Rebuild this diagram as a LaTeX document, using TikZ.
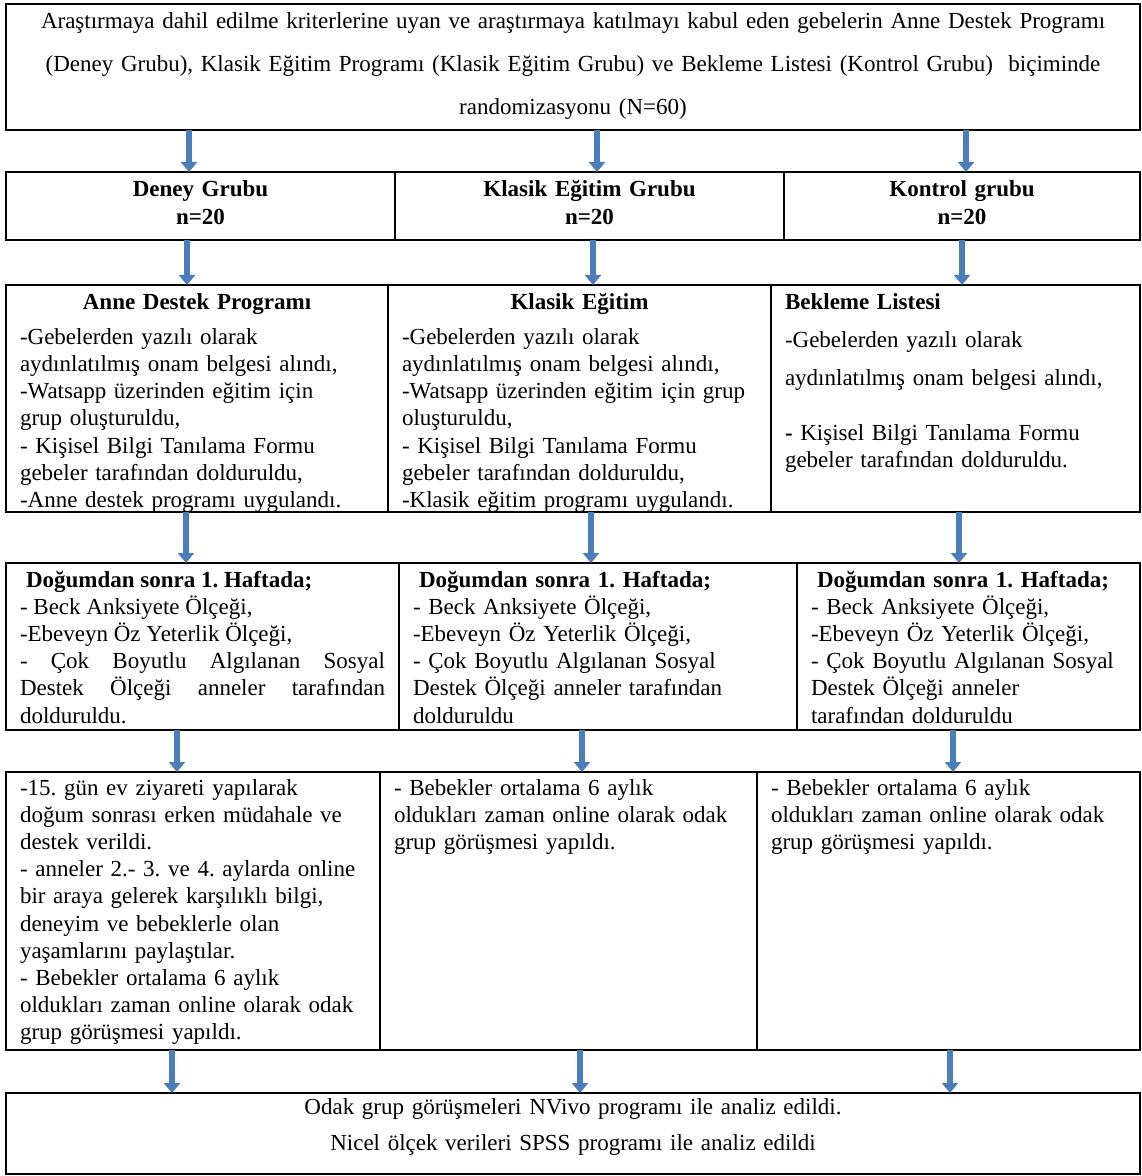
\documentclass[tikz,border=0pt]{standalone}
\usepackage{fontspec}
\setmainfont{Liberation Serif}
\usepackage{tikz}
\usetikzlibrary{arrows.meta, positioning}
\definecolor{arrowblue}{RGB}{74,126,187}
\frenchspacing

\begin{document}
\begin{tikzpicture}[
    cell/.style={draw=black, line width=1pt, inner xsep=7pt, inner ysep=0pt, outer sep=0pt, anchor=north west, align=left, font=\fontsize{11.5}{13.6}\selectfont},
    topbox/.style={cell, align=center, text width=553pt, text height=12.5pt, text depth=50.5pt},
    groupbox/.style={cell, align=center, font=\fontsize{11.5}{13.6}\selectfont\bfseries, text height=12.5pt, text depth=21.5pt},
    programbox/.style={cell, text height=12pt, text depth=101.5pt},
    weekbox/.style={cell, text height=12pt, text depth=71.5pt},
    followbox/.style={cell, text height=11.5pt, text depth=127.5pt},
    analysisbox/.style={cell, align=center, text width=553pt, text height=10.5pt, text depth=30pt},
    arrow/.style={-{Triangle[width=8pt, length=5pt]}, line width=2.8pt, draw=arrowblue}
]
    \path[use as bounding box, fill=white] (0,0) rectangle (570.5pt,-588pt);

    % Randomizasyon
    \node[topbox] (rand) at (3pt,-2pt) {
        Araştırmaya dahil edilme kriterlerine uyan ve araştırmaya katılmayı kabul eden gebelerin Anne Destek Programı\\[7.9pt]
        (Deney Grubu), Klasik Eğitim Programı (Klasik Eğitim Grubu) ve Bekleme Listesi (Kontrol Grubu)~~biçiminde\\[7.9pt]
        randomizasyonu (N=60)
    };

    % Gruplar
    \node[groupbox, text width=180.5pt, below=21pt of rand.south west, anchor=north west] (grp_deney) {Deney Grubu\\[0.4pt] n=20};
    \node[groupbox, text width=180.5pt, right=0pt of grp_deney] (grp_klasik) {Klasik Eğitim Grubu\\[0.4pt] n=20};
    \node[groupbox, text width=164pt, right=0pt of grp_klasik] (grp_kontrol) {Kontrol grubu\\[0.4pt] n=20};

    % Programlar
    \node[programbox, text width=177pt, below=22.5pt of grp_deney.south west, anchor=north west] (prog_anne) {
        \makebox[\linewidth]{\textbf{Anne Destek Programı}}\\[4pt]
        -Gebelerden yazılı olarak\\
        aydınlatılmış onam belgesi alındı,\\
        -Watsapp üzerinden eğitim için\\
        grup oluşturuldu,\\
        - Kişisel Bilgi Tanılama Formu\\
        gebeler tarafından dolduruldu,\\
        -Anne destek programı uygulandı.
    };
    \node[programbox, text width=177.5pt, right=0pt of prog_anne] (prog_klasik) {
        \makebox[\linewidth]{\textbf{Klasik Eğitim}}\\[4pt]
        -Gebelerden yazılı olarak\\
        aydınlatılmış onam belgesi alındı,\\
        -Watsapp üzerinden eğitim için grup\\
        oluşturuldu,\\
        - Kişisel Bilgi Tanılama Formu\\
        gebeler tarafından dolduruldu,\\
        -Klasik eğitim programı uygulandı.
    };
    \node[programbox, text width=170.5pt, right=0pt of prog_klasik] (prog_bekleme) {
        \textbf{Bekleme Listesi}\\[5.4pt]
        -Gebelerden yazılı olarak\\[5.4pt]
        aydınlatılmış onam belgesi alındı,\\[13.9pt]
        \textbf{-} Kişisel Bilgi Tanılama Formu\\
        gebeler tarafından dolduruldu.
    };

    % Doğumdan sonra 1. hafta
    \node[weekbox, align=justify, text width=182.5pt, below=25.5pt of prog_anne.south west, anchor=north west] (week_anne) {
        \hspace{3pt}\textbf{Doğumdan sonra 1. Haftada;}\\
        - Beck Anksiyete Ölçeği,\\
        -Ebeveyn Öz Yeterlik Ölçeği,\\
        - Çok Boyutlu Algılanan Sosyal\linebreak
        Destek Ölçeği anneler tarafından\linebreak
        dolduruldu.
    };
    \node[weekbox, text width=185pt, right=0pt of week_anne] (week_klasik) {
        \hspace{3pt}\textbf{Doğumdan sonra 1. Haftada;}\\
        - Beck Anksiyete Ölçeği,\\
        -Ebeveyn Öz Yeterlik Ölçeği,\\
        - Çok Boyutlu Algılanan Sosyal\\
        Destek Ölçeği anneler tarafından\\
        dolduruldu
    };
    \node[weekbox, text width=157.5pt, right=0pt of week_klasik] (week_kontrol) {
        \hspace{3pt}\textbf{Doğumdan sonra 1. Haftada;}\\
        - Beck Anksiyete Ölçeği,\\
        -Ebeveyn Öz Yeterlik Ölçeği,\\
        - Çok Boyutlu Algılanan Sosyal\\
        Destek Ölçeği anneler\\
        tarafından dolduruldu
    };

    % İzlem
    \node[followbox, text width=173pt, below=21pt of week_anne.south west, anchor=north west] (fol_anne) {
        -15. gün ev ziyareti yapılarak\\
        doğum sonrası erken müdahale ve\\
        destek verildi.\\
        - anneler 2.- 3. ve 4. aylarda online\\
        bir araya gelerek karşılıklı bilgi,\\
        deneyim ve bebeklerle olan\\
        yaşamlarını paylaştılar.\\
        - Bebekler ortalama 6 aylık\\
        oldukları zaman online olarak odak\\
        grup görüşmesi yapıldı.
    };
    \node[followbox, text width=174.5pt, right=0pt of fol_anne] (fol_klasik) {
        - Bebekler ortalama 6 aylık\\
        oldukları zaman online olarak odak\\
        grup görüşmesi yapıldı.
    };
    \node[followbox, text width=177.5pt, right=0pt of fol_klasik] (fol_kontrol) {
        - Bebekler ortalama 6 aylık\\
        oldukları zaman online olarak odak\\
        grup görüşmesi yapıldı.
    };

    % Analiz
    \node[analysisbox, below=21.5pt of fol_anne.south west, anchor=north west] (analiz) {
        Odak grup görüşmeleri NVivo programı ile analiz edildi.\\[4.4pt]
        Nicel ölçek verileri SPSS programı ile analiz edildi
    };

    % Arrows
    \draw[arrow] ([xshift=-5.75pt]grp_deney.north |- rand.south) -- ([xshift=-5.75pt]grp_deney.north);
    \draw[arrow] ([xshift=3.75pt]grp_klasik.north |- rand.south) -- ([xshift=3.75pt]grp_klasik.north);
    \draw[arrow] ([xshift=2pt]grp_kontrol.north |- rand.south) -- ([xshift=2pt]grp_kontrol.north);

    \draw[arrow] ([xshift=-5pt]prog_anne.north |- grp_deney.south) -- ([xshift=-5pt]prog_anne.north);
    \draw[arrow] ([xshift=6.75pt]prog_klasik.north |- grp_klasik.south) -- ([xshift=6.75pt]prog_klasik.north);
    \draw[arrow] ([xshift=3.25pt]prog_bekleme.north |- grp_kontrol.south) -- ([xshift=3.25pt]prog_bekleme.north);

    \draw[arrow] ([xshift=-8.25pt]week_anne.north |- prog_anne.south) -- ([xshift=-8.25pt]week_anne.north);
    \draw[arrow] ([xshift=-3.5pt]week_klasik.north |- prog_klasik.south) -- ([xshift=-3.5pt]week_klasik.north);
    \draw[arrow] ([xshift=-4.75pt]week_kontrol.north |- prog_bekleme.south) -- ([xshift=-4.75pt]week_kontrol.north);

    \draw[arrow] ([xshift=-8pt]fol_anne.north |- week_anne.south) -- ([xshift=-8pt]fol_anne.north);
    \draw[arrow] ([xshift=6.75pt]fol_klasik.north |- week_klasik.south) -- ([xshift=6.75pt]fol_klasik.north);
    \draw[arrow] ([xshift=2.25pt]fol_kontrol.north |- week_kontrol.south) -- ([xshift=2.25pt]fol_kontrol.north);

    \draw[arrow] ([xshift=-10.5pt]fol_anne.south) -- ([xshift=-10.5pt]fol_anne.south |- analiz.north);
    \draw[arrow] ([xshift=5.75pt]fol_klasik.south) -- ([xshift=5.75pt]fol_klasik.south |- analiz.north);
    \draw[arrow] ([xshift=0.75pt]fol_kontrol.south) -- ([xshift=0.75pt]fol_kontrol.south |- analiz.north);
\end{tikzpicture}
\end{document}
